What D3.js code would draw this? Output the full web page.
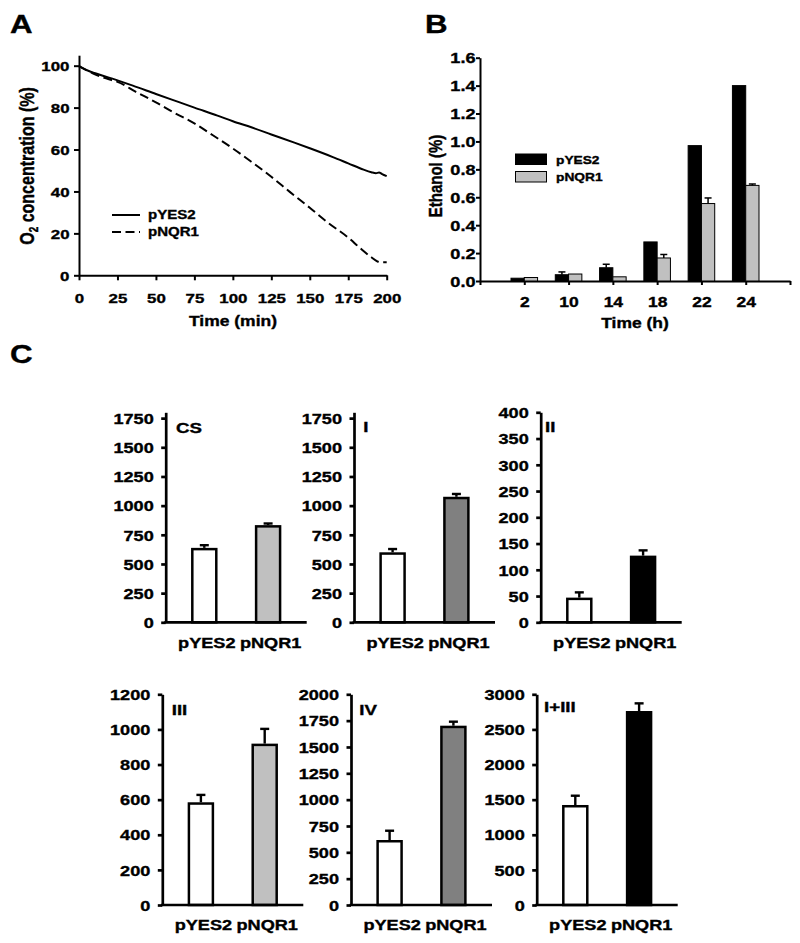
<!DOCTYPE html>
<html><head><meta charset="utf-8">
<script src="https://cdn.jsdelivr.net/npm/d3@7"></script>
<style>
body{margin:0;background:#fff}
svg{display:block}
text{font-family:"Liberation Sans",Arial,sans-serif;font-weight:bold;fill:#000;stroke:#000;stroke-width:0.35px}
</style>
</head><body>
<svg id="chart" width="800" height="943"></svg>
<script>
// ---------- Panel A data ----------
const timeYES2 = [0,3,6,10,15,20,25,35,50,65,75,90,100,112,125,140,150,165,175,185,190,193,195,197,200];
const o2YES2   = [99.8,98.6,97.6,96.5,95.3,94.2,93.0,90.5,86.5,82.6,80.0,76.2,73.5,70.6,67.2,63.3,60.6,56.4,53.4,50.4,49.2,48.7,49.0,48.3,47.3];
const timeNQR1 = [0,5,10,15,20,25,37,50,62,75,87,100,112,125,137,150,162,175,183,190,194,197,200];
const o2NQR1   = [99.8,97.8,96.0,94.6,93.4,92.3,87.5,82.5,77.5,72.5,66.8,60.5,54.2,47.0,39.8,32.2,25.0,18.0,12.8,8.6,6.6,6.2,6.2];
const aTicksX = [0,25,50,75,100,125,150,175,200];
const aTicksY = [0,20,40,60,80,100];
const aSeries = ["pYES2","pNQR1"];

// ---------- Panel B data ----------
const bCategories = ["2","10","14","18","22","24"];
const bYES2    = [0.02,0.045,0.095,0.28,0.97,1.40];
const bYES2Err = [0,0.02,0.025,0,0,0];
const bNQR1    = [0.025,0.05,0.03,0.165,0.555,0.685];
const bNQR1Err = [0,0,0,0.025,0.04,0.01];
const bTicksY  = [0,0.2,0.4,0.6,0.8,1.0,1.2,1.4,1.6];

// ---------- Panel C data ----------
const cStrains   = ["pYES2","pNQR1"];
const cComplexes = ["CS","I","II","III","IV","I+III"];
const cValues = [[638,833],[600,1076],[47,127],[585,919],[617,1702],[1424,2762]];
const cErrors = [[23,14],[28,24],[10,10],[42,84],[88,38],[132,109]];
const cAxisMax  = [1800,1800,400,1200,2000,3000];
const cTickMax  = [1750,1750,400,1200,2000,3000];
const cTickStep = [250,250,50,200,250,500];

// ---------- styles / layout ----------
const SX = 1.25; // horizontal text stretch
const svg = d3.select("#chart");
function txt(g, x, y, s, size, anchor){
  return g.append("text").attr("transform",`translate(${x},${y}) scale(${SX},1)`)
    .attr("font-size",size).attr("text-anchor",anchor||"start").text(s);
}
function vtxt(g, x, y, size){
  return g.append("text").attr("transform",`translate(${x},${y}) rotate(-90) scale(1,${SX})`)
    .attr("font-size",size).attr("text-anchor","middle").attr("dy","0.35em");
}
function styleAxis(g, sw){
  g.selectAll("path.domain").attr("stroke","#000").attr("stroke-width",sw);
  g.selectAll(".tick line").attr("stroke","#000").attr("stroke-width",sw);
}
function leftTexts(g, size, gap){
  g.selectAll(".tick text").attr("font-size",size).attr("font-family",null).attr("fill",null)
    .attr("transform",`scale(${SX},1)`).attr("x",-gap/SX).attr("dy","0.36em");
}
function bottomTexts(g, size, yb, dx){
  g.selectAll(".tick text").attr("font-size",size).attr("font-family",null).attr("fill",null)
    .attr("transform",`scale(${SX},1)`).attr("y",yb).attr("dy",null)
    .attr("x",(dx||0)/SX);
}

// panel letters
txt(svg,10,33,"A",25);
txt(svg,425,33,"B",25);
txt(svg,10,363,"C",25);

// ================= Panel A =================
(function(){
  const g = svg.append("g");
  const x = d3.scaleLinear().domain([0,200]).range([79,386.7]);
  const y = d3.scaleLinear().domain([0,105]).range([275.3,55.2]);
  const gy = g.append("g").attr("transform","translate(79,0)")
    .call(d3.axisLeft(y).tickValues(aTicksY).tickSize(5).tickSizeOuter(0));
  styleAxis(gy,2); leftTexts(gy,13.5,9.5);
  const gx = g.append("g").attr("transform","translate(0,275.3)")
    .call(d3.axisBottom(x).tickValues(aTicksX).tickSize(5).tickSizeOuter(0));
  styleAxis(gx,2); bottomTexts(gx,13.5,27.5);
  const line = d3.line().x(d=>x(d[0])).y(d=>y(d[1])).curve(d3.curveMonotoneX);
  const dA = [d3.zip(timeYES2,o2YES2), d3.zip(timeNQR1,o2NQR1)];
  const dashes = [null,"9,4.5"];
  dA.forEach((d,i)=>{
    g.append("path").datum(d).attr("d",line).attr("fill","none")
      .attr("stroke","#000").attr("stroke-width",2).attr("stroke-dasharray",dashes[i]);
  });
  // legend
  aSeries.forEach((s,i)=>{
    const ly = 215 + i*17;
    g.append("line").attr("x1",112).attr("x2",140).attr("y1",ly).attr("y2",ly)
      .attr("stroke","#000").attr("stroke-width",2).attr("stroke-dasharray",dashes[i]);
    txt(g,148,ly+4.3,s,12);
  });
  txt(g,233,326,"Time (min)",14,"middle");
  const t = vtxt(g,27,166,16);
  t.append("tspan").text("O");
  t.append("tspan").attr("font-size",10).attr("dy","0.35em").text("2");
  t.append("tspan").attr("dy","-0.22em").text(" concentration (%)");
})();

// ================= Panel B =================
(function(){
  const g = svg.append("g");
  const x = d3.scaleLinear().domain([0,7]).range([480,790]);
  const y = d3.scaleLinear().domain([0,1.6]).range([281,57.7]);
  const bw = 0.3;
  const gy = g.append("g").attr("transform","translate(480,0)")
    .call(d3.axisLeft(y).tickValues(bTicksY).tickFormat(d3.format(".1f")).tickSize(4).tickSizeOuter(0));
  styleAxis(gy,2); leftTexts(gy,14.5,4.5);
  const idx = d3.range(0,8);
  const gx = g.append("g").attr("transform","translate(0,281)")
    .call(d3.axisBottom(x).tickValues(idx).tickSize(4).tickSizeOuter(0)
      .tickFormat(i => (i>=1 && i<=bCategories.length) ? bCategories[i-1] : ""));
  styleAxis(gx,2); bottomTexts(gx,14,25.7);
  const series = [
    {v:bYES2, e:bYES2Err, fill:"#000", off:-bw},
    {v:bNQR1, e:bNQR1Err, fill:"#c0c0c0", off:0}
  ];
  series.forEach(s=>{
    s.v.forEach((v,i)=>{
      const x0 = x(i+1+s.off), x1 = x(i+1+s.off+bw);
      g.append("rect").attr("x",x0).attr("width",x1-x0).attr("y",y(v)).attr("height",y(0)-y(v))
        .attr("fill",s.fill).attr("stroke","#000").attr("stroke-width",1);
      if(s.e[i]>0){
        const cx=(x0+x1)/2;
        g.append("line").attr("x1",cx).attr("x2",cx).attr("y1",y(v)).attr("y2",y(v+s.e[i]))
          .attr("stroke","#000").attr("stroke-width",1.5);
        g.append("line").attr("x1",cx-3.5).attr("x2",cx+3.5).attr("y1",y(v+s.e[i])).attr("y2",y(v+s.e[i]))
          .attr("stroke","#000").attr("stroke-width",1.5);
      }
    });
  });
  // legend
  const legendFill = ["#000","#c0c0c0"];
  aSeries.forEach((s,i)=>{
    const ly = 154 + i*17.5;
    g.append("rect").attr("x",515.5).attr("y",ly).attr("width",31).attr("height",10.5)
      .attr("fill",legendFill[i]).attr("stroke","#000").attr("stroke-width",1);
    txt(g,556,ly+9.5,s,11);
  });
  txt(g,635,328,"Time (h)",14,"middle");
  vtxt(g,435,176,15).text("Ethanol (%)");
})();

// ================= Panel C =================
(function(){
  const axisX = [165.7,354,540.7,162.3,351,536.7];
  const rowY0 = [622.3,622.3,622.3,905,905,905];
  const rowTop = [412.3,412.3,412.3,694.3,694.3,694.3];
  const labelDx = [10.3,9.3,4.3,9.4,8.3,7.3];
  const labelY = [433,432,431.7,715,715,712];
  const fills = ["#c0c0c0","#808080","#000","#c0c0c0","#808080","#000"];
  const W = 141;
  cComplexes.forEach((name,k)=>{
    const g = svg.append("g").attr("transform",`translate(${axisX[k]},0)`);
    const x = d3.scaleBand().domain(cStrains).range([0,W]).paddingInner(0.585).paddingOuter(0.3975);
    const y = d3.scaleLinear().domain([0,cAxisMax[k]]).range([rowY0[k],rowTop[k]]);
    const ticks = d3.range(0,cTickMax[k]+1,cTickStep[k]);
    const gy = g.append("g").call(d3.axisLeft(y).tickValues(ticks).tickFormat(d3.format("d")).tickSize(4.5).tickSizeOuter(0));
    styleAxis(gy,2.7); leftTexts(gy,14.5,12);
    // bars
    cStrains.forEach((s,i)=>{
      const v = cValues[k][i], e = cErrors[k][i];
      const bx = x(s), bwid = x.bandwidth();
      const cx = bx + bwid/2;
      g.append("line").attr("x1",cx).attr("x2",cx).attr("y1",y(v)).attr("y2",y(v+e))
        .attr("stroke","#000").attr("stroke-width",2.4);
      g.append("line").attr("x1",cx-4.5).attr("x2",cx+4.5).attr("y1",y(v+e)).attr("y2",y(v+e))
        .attr("stroke","#000").attr("stroke-width",2.4);
      g.append("rect").attr("x",bx+1.25).attr("width",bwid-2.5).attr("y",y(v)+1.25)
        .attr("height",y(0)-y(v)-1.25)
        .attr("fill", i===0 ? "#fff" : fills[k]).attr("stroke","#000").attr("stroke-width",2.5);
    });
    const gx = g.append("g").attr("transform",`translate(0,${rowY0[k]})`)
      .call(d3.axisBottom(x).tickSize(0).tickSizeOuter(0));
    styleAxis(gx,2.7);
    gx.selectAll("path.domain").attr("d",`M-1.35,0H${W}`);
    bottomTexts(gx,14.5,25.3,2.5);
    txt(g,labelDx[k],labelY[k],name,15);
  });
})();
</script>
</body></html>
